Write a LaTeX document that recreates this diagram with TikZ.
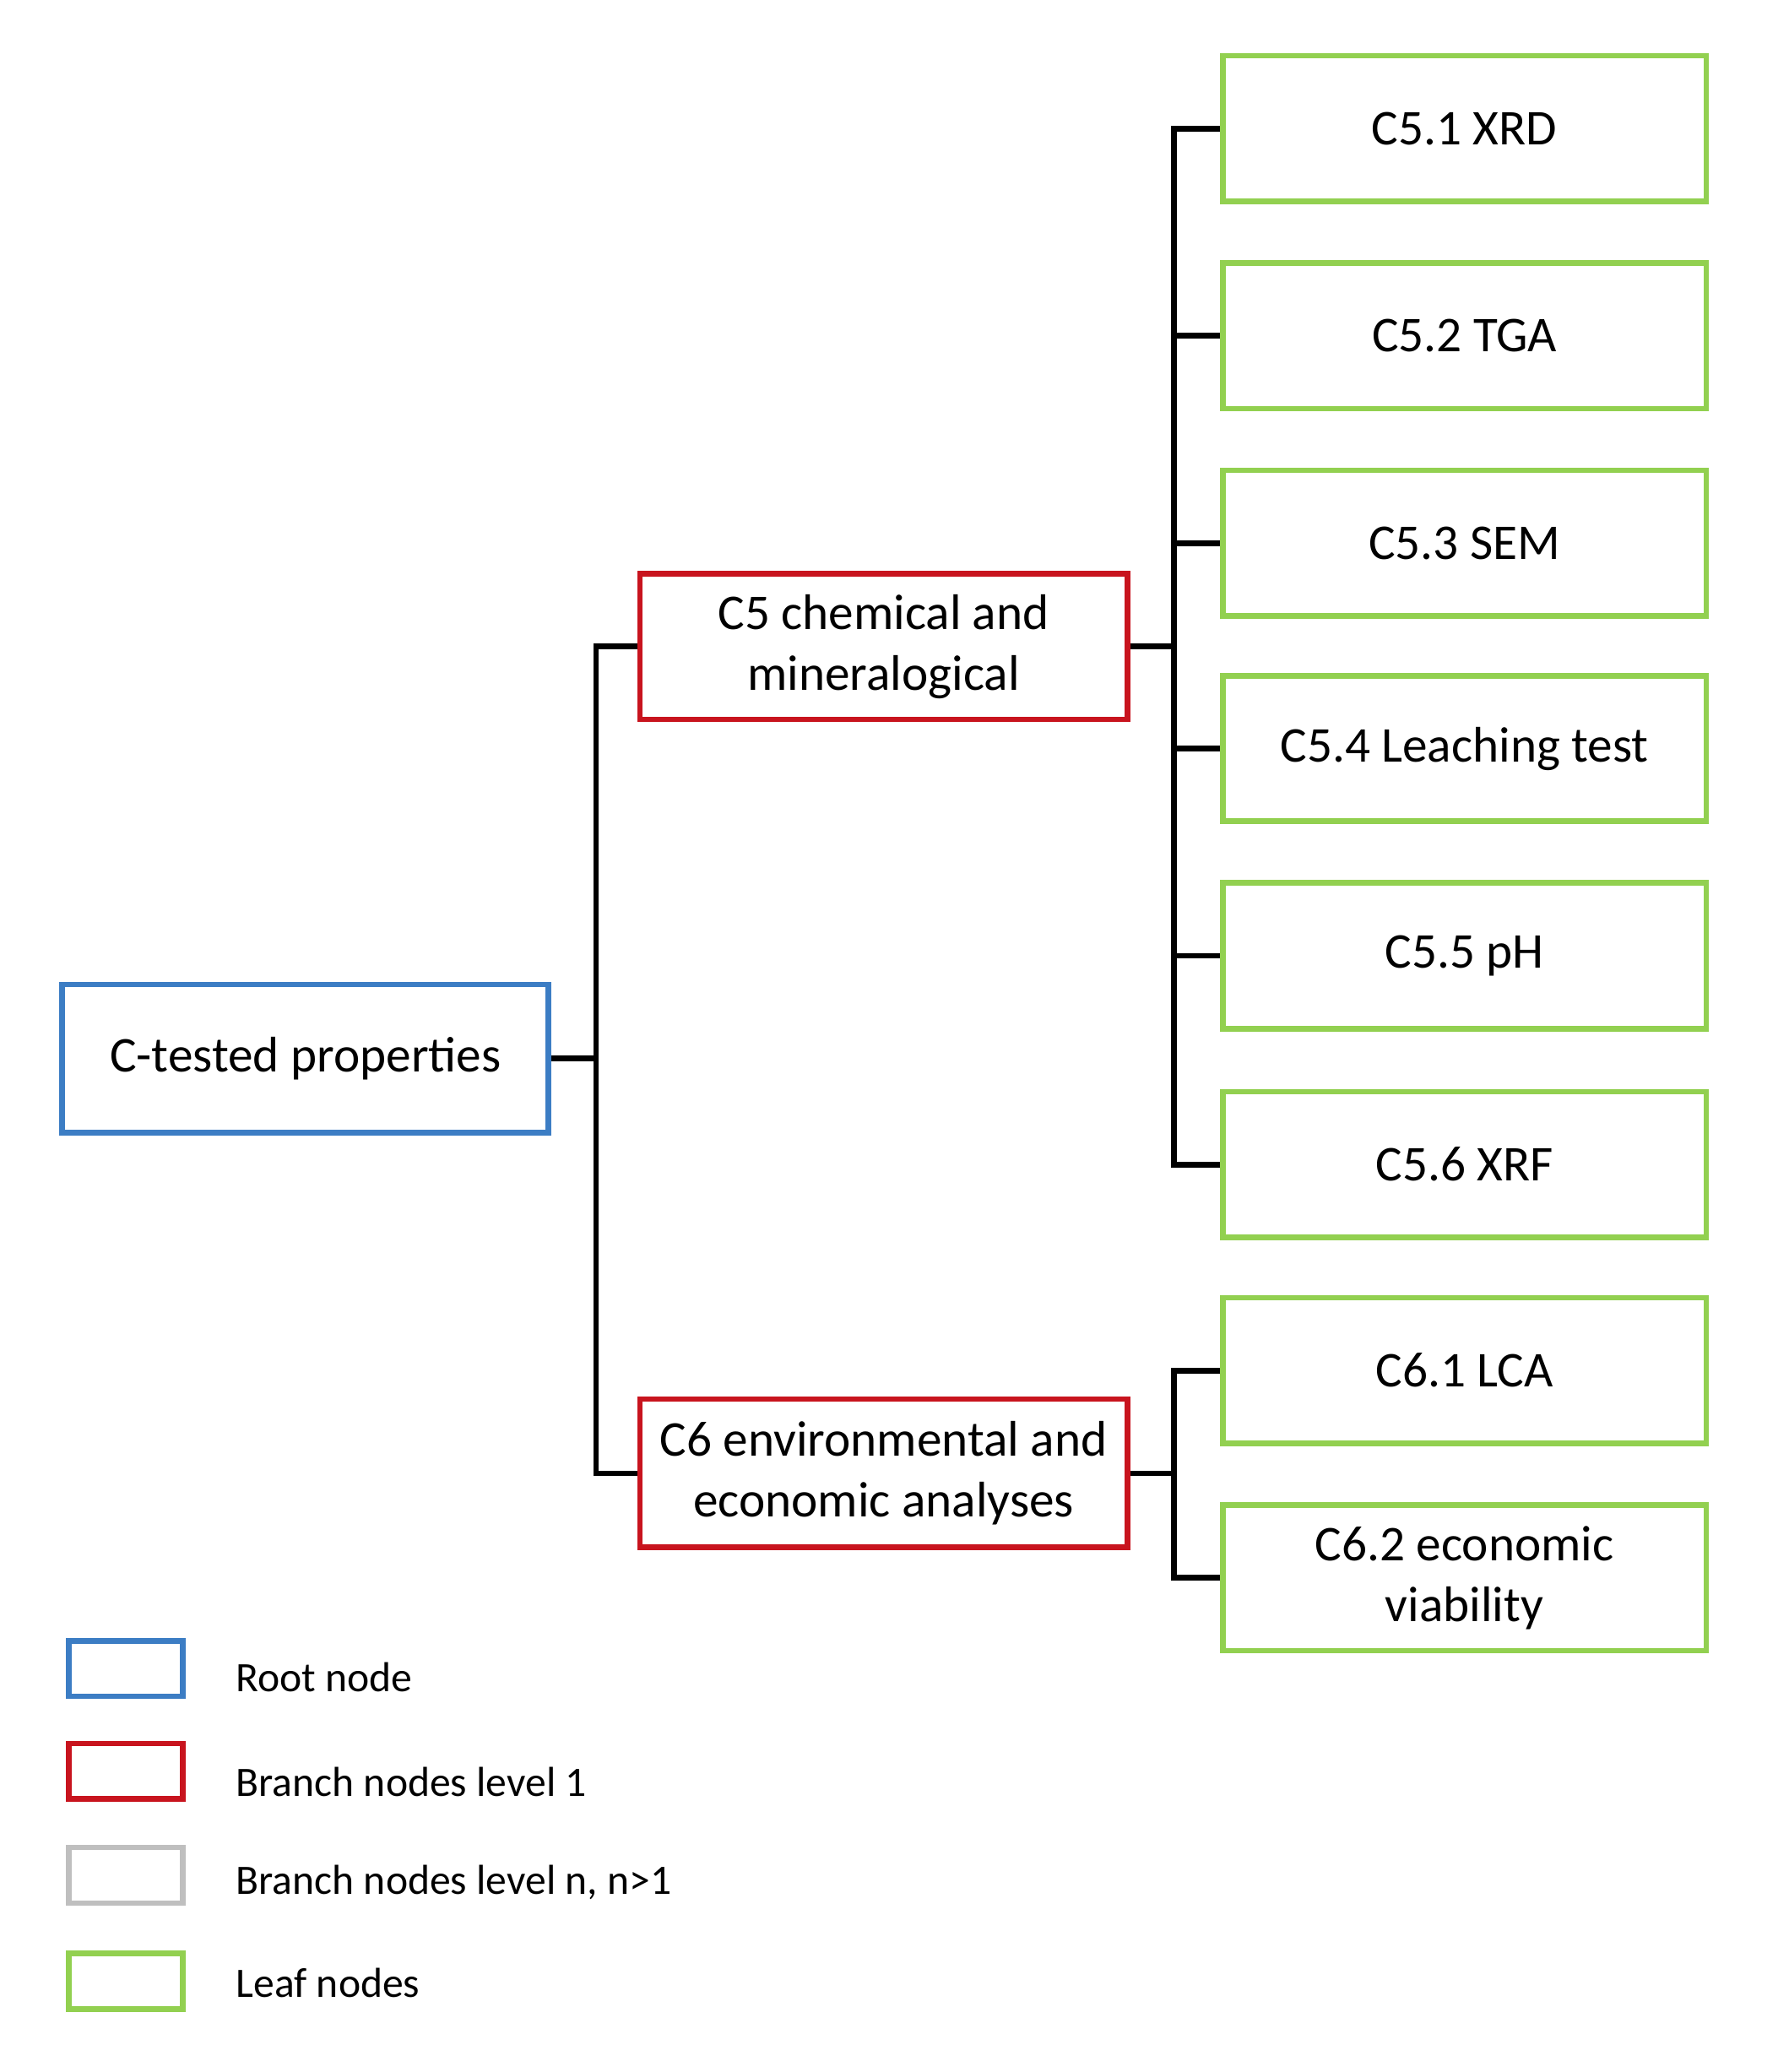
\documentclass[tikz,border=0pt]{standalone}
\usepackage{fontspec}
\setmainfont{Carlito}
\definecolor{cblue}{HTML}{3C7DC4}
\definecolor{cred}{HTML}{C8141E}
\definecolor{cgray}{HTML}{BFBFBF}
\definecolor{cgreen}{HTML}{92D050}
\begin{document}
\begin{tikzpicture}[x=0.02cm,y=-0.02cm,
  box/.style={draw,line width=2.4pt,align=center,inner sep=0pt,font=\fontsize{21.5}{26}\selectfont},
  leaf/.style={box,draw=cgreen,minimum width=7.3cm,minimum height=2.2cm},
  con/.style={line width=2.4pt,black},
  lg/.style={draw,line width=2.4pt,minimum width=1.72cm,minimum height=0.84cm,inner sep=0pt},
  lt/.style={anchor=west,font=\fontsize{18}{22}\selectfont}]
\useasboundingbox (0,0) rectangle (1350,1564);
\node[box,draw=cblue,minimum width=7.34cm,minimum height=2.24cm] (root) at (230.5,799) {C-tested properties};
\node[box,draw=cred,minimum width=7.36cm,minimum height=2.2cm] (c5) at (667,488) {C5 chemical and\\mineralogical};
\node[box,draw=cred,minimum width=7.36cm,minimum height=2.24cm] (c6) at (667,1112) {C6 environmental and\\economic analyses};
\node[leaf] (l1) at (1105.5,97) {C5.1 XRD};
\node[leaf] (l2) at (1105.5,253.5) {C5.2 TGA};
\node[leaf] (l3) at (1105.5,410) {C5.3 SEM};
\node[leaf] (l4) at (1105.5,565) {C5.4 Leaching test};
\node[leaf] (l5) at (1105.5,721.5) {C5.5 pH};
\node[leaf] (l6) at (1105.5,879) {C5.6 XRF};
\node[leaf] (l7) at (1105.5,1034.5) {C6.1 LCA};
\node[leaf] (l8) at (1105.5,1191) {C6.2 economic\\viability};
\coordinate (j1) at (450,799);
\coordinate (k1) at (886,488);
\coordinate (k2) at (886,1112);
\draw[con] (root.east) -- (j1);
\draw[con] (c5.west) -| (j1) |- (c6.west);
\draw[con] (c5.east) -- (k1);
\foreach \n in {l1,l2,l3,l4,l5,l6} \draw[con] (\n.west) -| (k1);
\draw[con] (c6.east) -- (k2);
\foreach \n in {l7,l8} \draw[con] (\n.west) -| (k2);
\node[lg,draw=cblue] (g1) at (95,1259.5) {};
\node[lg,draw=cred] (g2) at (95,1337) {};
\node[lg,draw=cgray] (g3) at (95,1415.5) {};
\node[lg,draw=cgreen] (g4) at (95,1495.5) {};
\node[lt] (t1) at (172,1266) {Root node};
\node[lt] (t2) at (172,1345) {Branch nodes level 1};
\node[lt] (t3) at (172,1421) {Branch nodes level n, n>1};
\node[lt] (t4) at (172,1497) {Leaf nodes};
\end{tikzpicture}
\end{document}
